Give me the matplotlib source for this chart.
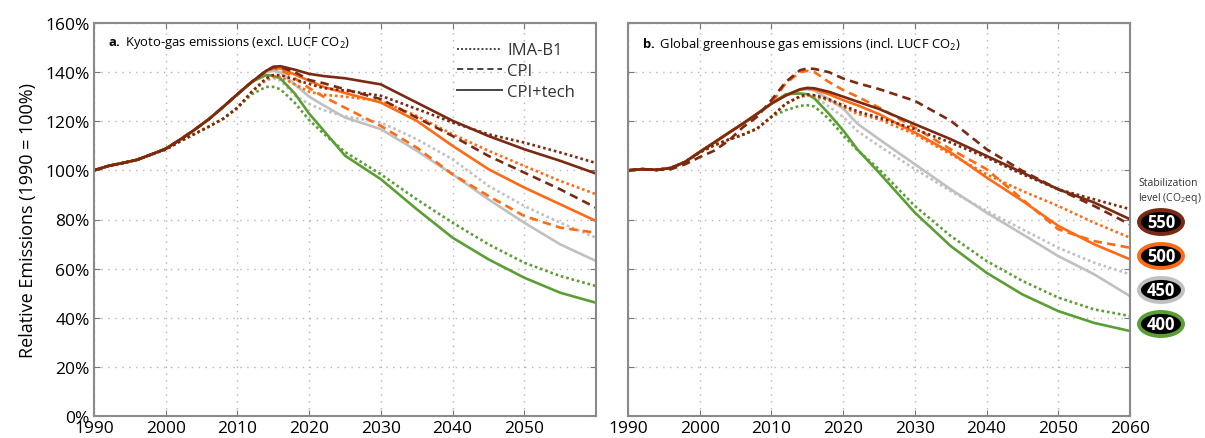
'''relative emissions of stabilization scenarios, two panels'''

import matplotlib
matplotlib.use('Agg')
from matplotlib import pyplot as plt
from matplotlib.lines import Line2D
from matplotlib.patches import Ellipse
from matplotlib.ticker import MultipleLocator, FuncFormatter

plt.rcParams['font.family'] = ['Open Sans', 'DejaVu Sans']
plt.rcParams['mathtext.fontset'] = 'custom'
plt.rcParams['mathtext.rm'] = 'Open Sans'
plt.rcParams['mathtext.bf'] = 'Open Sans:bold'

# years of the shared history and of the scenario part
hist_years = [1990, 1992, 1994, 1996, 1998, 2000, 2002, 2004, 2006, 2008, 2010]
fut_years = [2012, 2014, 2015, 2016, 2018, 2020, 2022, 2025, 2030, 2035,
             2040, 2045, 2050, 2055, 2060]

# panel a: Kyoto-gas emissions (excl. LUCF CO2), % of 1990
a_hist_cpi = [100, 101.8, 103, 104.3, 106.5, 108.8, 112.5, 116.5, 120.8, 125.8, 131.0]
a_hist_ima = [100, 101.8, 103, 104.3, 106.5, 108.5, 111.8, 114.8, 117.8, 121.0, 125.5]

a_550_tech = [136, 140.5, 142.2, 142.4, 141, 139.3, 138.4, 137.5, 135, 127.6, 120.2, 114, 108.6, 103.9, 98.7]
a_550_cpi = [136, 140.5, 142, 142, 140, 136.8, 135.5, 133, 129, 121.5, 114, 105.9, 99.1, 92.3, 84.8]
a_550_ima = [132, 137.5, 138.8, 138.8, 137, 135.2, 133.5, 132.5, 130.4, 125, 119.5, 114.7, 111.3, 107.3, 103]
a_500_tech = [136, 140.5, 141.5, 141.5, 139, 136.5, 134, 131.5, 127.6, 120.2, 110, 100.5, 93, 86.2, 79.4]
a_500_cpi = [136, 140.5, 141.5, 141, 137.5, 133.5, 130, 125.5, 118.1, 109.3, 98.4, 89.6, 81.4, 76.7, 74.6]
a_500_ima = [132, 137, 138, 138, 135, 132, 130.8, 130, 128.3, 122.2, 114.7, 108, 101.8, 95.7, 90.3]
a_450_tech = [136, 140, 140.5, 140, 135, 130, 126.5, 121.5, 116.8, 108, 98.4, 88.2, 78.7, 69.9, 63.1]
a_450_ima = [132, 136.5, 137.5, 136.5, 130.5, 127, 124.5, 122, 119.5, 112.7, 104.5, 93.7, 85.5, 78.7, 72.6]
a_400_tech = [136, 138.8, 138.5, 137.4, 131.3, 123.1, 116.3, 106, 96.4, 84.2, 72.6, 63.8, 56.3, 50.2, 46.1]
a_400_ima = [131, 134, 134, 133, 127.5, 120.5, 115, 107.5, 98.4, 88.2, 78.7, 69.9, 62.4, 57, 52.9]

# panel b: global greenhouse gas emissions (incl. LUCF CO2), % of 1990
b_hist_cpi = [100, 100.5, 100.2, 101, 103.5, 107.5, 111.3, 115.2, 119, 123, 127.2]
b_hist_cpi550 = [100, 100.5, 100.2, 100.5, 102.5, 105.4, 108, 112, 117.5, 121.8, 128.6]
b_hist_ima = [100, 100.5, 100.2, 101, 103.5, 107.3, 110.2, 112.5, 114.5, 117, 121.8]

b_550_tech = [130.5, 133, 133.6, 133.4, 132, 130, 128, 125, 118.8, 112.7, 105.9, 99.1, 92.3, 86.9, 80.1]
b_550_cpi = [136, 140.8, 141.5, 141.3, 140, 137.4, 135.5, 133.1, 128.3, 120.2, 108.6, 99.8, 92.3, 85.5, 78]
b_550_ima = [127.2, 130.2, 130.9, 130.6, 129, 126.5, 124, 121.5, 116.8, 111.3, 105.2, 98.4, 92.3, 88.2, 84.2]
b_500_tech = [130.5, 133, 133.3, 133, 131, 128.6, 126.5, 122.9, 115.4, 107.3, 97.1, 87.6, 77.4, 69.9, 63.8]
b_500_cpi = [135.5, 140, 140.5, 140, 136, 132.7, 130, 125.6, 117.4, 108.6, 100.5, 88.2, 76, 71.2, 68.5]
b_500_ima = [127, 130, 130.5, 130.3, 128.5, 125.9, 123, 120.8, 114.7, 106.6, 98.4, 91.6, 85.5, 78.7, 72.6]
b_450_tech = [130.5, 132.8, 133, 132.5, 129, 125.2, 119, 112.7, 102.5, 92.3, 82.8, 74, 65.1, 57.7, 48.8]
b_450_ima = [127, 130, 130.5, 130, 126, 121.8, 116, 110, 100.5, 91.6, 83.5, 76, 68.5, 62.4, 57.7]
b_400_tech = [131, 131.3, 131, 129.3, 123.1, 116.3, 108.5, 99.1, 82.8, 69.2, 58.3, 49.5, 42.7, 37.9, 34.6]
b_400_ima = [124.5, 126.3, 126.5, 126, 121, 114.3, 108.2, 100.5, 85.5, 73.3, 63.1, 55, 48.2, 43.4, 40.7]

levels = ['550', '500', '450', '400']
COL = {'550': '#7a2a12', '500': '#ff6a14', '450': '#c0c0c0', '400': '#5a9e34'}
LS = {'ima': (0, (1, 1.1)), 'cpi': (0, (3.2, 2.0)), 'tech': '-'}
LW = 1.9


def draw(ax, hist, series):
    for lev, kind, vals in series:
        h = hist[kind] if kind in hist else hist['cpi']
        ax.plot(hist_years + fut_years, h + vals, color=COL[lev],
                linestyle=LS[kind], lw=LW, solid_capstyle='round',
                solid_joinstyle='round')


def style(ax, ylabels):
    ax.set_xlim(1990, 2060)
    ax.set_ylim(0, 160)
    ax.xaxis.set_major_locator(MultipleLocator(10))
    ax.yaxis.set_major_locator(MultipleLocator(20))
    ax.grid(True, color='#b5b5b5', linestyle=(0, (1, 4)), lw=1.0)
    ax.tick_params(direction='in', top=True, right=True, length=4,
                   color='#777777', labelsize=12.5, pad=3)
    for s in ax.spines.values():
        s.set_color('#8a8a8a')
        s.set_linewidth(1.5)
    if ylabels:
        ax.yaxis.set_major_formatter(FuncFormatter(lambda v, p: '%d%%' % v))
    else:
        ax.set_yticklabels([])


fig = plt.figure(figsize=(12.05, 4.39), dpi=100)
ax1 = fig.add_axes([94 / 1205, 22 / 439, 502 / 1205, 393 / 439])
ax2 = fig.add_axes([628 / 1205, 22 / 439, 502 / 1205, 393 / 439])

draw(ax1, {'cpi': a_hist_cpi, 'tech': a_hist_cpi, 'ima': a_hist_ima},
     [('450', 'ima', a_450_ima), ('450', 'tech', a_450_tech),
      ('400', 'ima', a_400_ima), ('400', 'tech', a_400_tech),
      ('500', 'ima', a_500_ima), ('500', 'cpi', a_500_cpi), ('500', 'tech', a_500_tech),
      ('550', 'ima', a_550_ima), ('550', 'cpi', a_550_cpi), ('550', 'tech', a_550_tech)])

draw(ax2, {'cpi': b_hist_cpi, 'tech': b_hist_cpi, 'ima': b_hist_ima},
     [('450', 'ima', b_450_ima), ('450', 'tech', b_450_tech),
      ('400', 'ima', b_400_ima), ('400', 'tech', b_400_tech),
      ('500', 'ima', b_500_ima), ('500', 'cpi', b_500_cpi), ('500', 'tech', b_500_tech),
      ('550', 'ima', b_550_ima), ('550', 'tech', b_550_tech)])
# the CPI 550 path in panel b has its own history
ax2.plot(hist_years + fut_years, b_hist_cpi550 + b_550_cpi, color=COL['550'],
         linestyle=LS['cpi'], lw=LW)

style(ax1, True)
style(ax2, False)
ax1.set_xticks([1990, 2000, 2010, 2020, 2030, 2040, 2050])
ax1.set_xticks([2060], minor=True)
ax1.tick_params(which='minor', direction='in', top=True, length=4, color='#777777')
ax1.set_ylabel('Relative Emissions (1990 = 100%)', fontsize=13, labelpad=6)

ax1.text(0.028, 0.954, r'$\mathbf{a.}$ Kyoto-gas emissions (excl. LUCF CO$_2$)',
         transform=ax1.transAxes, fontsize=9.4, va='center', ha='left')
ax2.text(0.028, 0.949, r'$\mathbf{b.}$ Global greenhouse gas emissions (incl. LUCF CO$_2$)',
         transform=ax2.transAxes, fontsize=9.4, va='center', ha='left')

handles = [Line2D([], [], color='#444444', lw=1.4, linestyle=LS['ima']),
           Line2D([], [], color='#444444', lw=1.4, linestyle=LS['cpi']),
           Line2D([], [], color='#444444', lw=1.4, linestyle='-')]
leg = ax1.legend(handles, ['IMA-B1', 'CPI', 'CPI+tech'], loc='upper right',
                 bbox_to_anchor=(0.975, 0.972), frameon=False, fontsize=12,
                 handlelength=2.7, handletextpad=0.3, labelspacing=0.28,
                 borderpad=0)
for t in leg.get_texts():
    t.set_color('#333333')

# stabilization level badges
fig.text(1138 / 1205, 1 - 192 / 439, 'Stabilization\nlevel (CO$_2$eq)',
         fontsize=7.5, color='#333333', va='center', ha='left', linespacing=1.2)
for i, lev in enumerate(levels):
    cy = 1 - (223 + i * 34) / 439
    e = Ellipse((1161 / 1205, cy), 44 / 1205, 24 / 439, transform=fig.transFigure,
                facecolor='black', edgecolor=COL[lev], lw=2.8)
    fig.add_artist(e)
    fig.text(1161 / 1205, cy, lev, color='white', fontsize=12,
             fontweight='bold', ha='center', va='center')

fig.savefig('out.png', dpi=100)
